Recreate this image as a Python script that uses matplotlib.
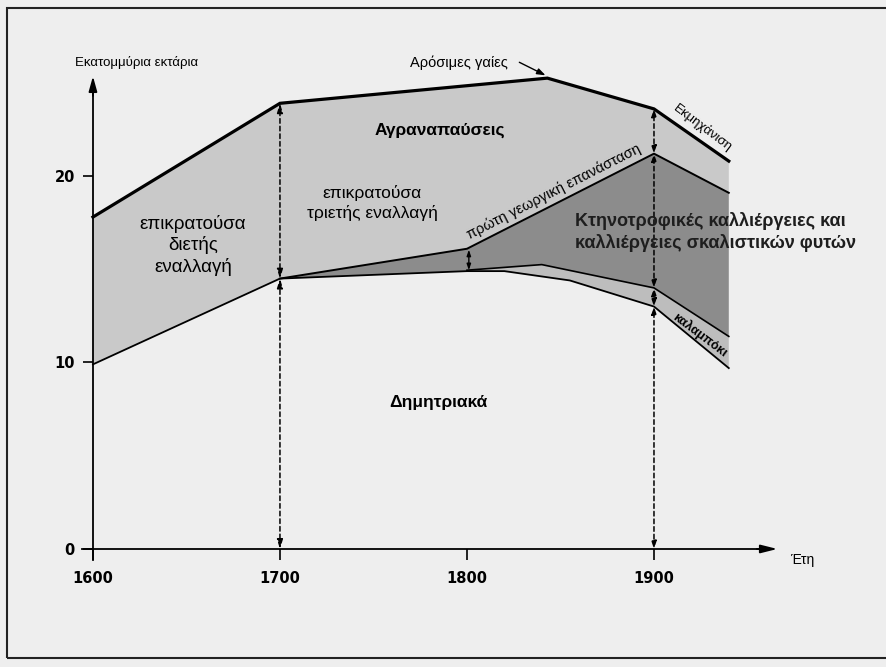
import matplotlib
matplotlib.use("Agg")
import matplotlib.pyplot as plt
import numpy as np
from matplotlib.patches import Rectangle

plt.rcParams['font.family'] = ['Liberation Sans', 'DejaVu Sans']

# boundaries (million hectares)
arable_years = [1600, 1700, 1843, 1900, 1940]
arable_vals = [17.8, 23.9, 25.25, 23.6, 20.8]

fodder_years = [1700, 1800, 1900, 1940]
fodder_vals = [14.5, 16.1, 21.2, 19.1]

maize_years = [1800, 1840, 1900, 1940]
maize_vals = [14.95, 15.25, 14.0, 11.4]

cereal_years = [1600, 1700, 1800, 1820, 1855, 1900, 1940]
cereal_vals = [9.9, 14.5, 14.9, 14.9, 14.4, 13.0, 9.7]

x_ticks = [1600, 1700, 1800, 1900]
y_ticks = [0, 10, 20]

# dashed measuring arrows (from, to)
arrows_1700 = [(0, 14.5), (14.5, 23.9)]
arrows_1900 = [(0, 13.0), (13.0, 14.0), (14.0, 21.2), (21.2, 23.6)]

bg = '#eeeeee'
fig = plt.figure(figsize=(8.87, 6.67), dpi=100, facecolor=bg)
ax = fig.add_axes([0, 0, 1, 1])
ax.set_facecolor(bg)
ax.set_xlim(1550.3, 2024.6)
ax.set_ylim(-6.33, 29.44)

ay, av = np.array(arable_years), np.array(arable_vals)
fy, fv = np.array(fodder_years), np.array(fodder_vals)
my, mv = np.array(maize_years), np.array(maize_vals)
cy, cv = np.array(cereal_years), np.array(cereal_vals)

# fallow (light): arable top down to fodder top / cereal top before 1700
c_early = cy <= 1700
fx = np.concatenate([ay, fy[::-1], cy[c_early][::-1]])
fyv = np.concatenate([av, fv[::-1], cv[c_early][::-1]])
ax.fill(fx, fyv, color='#c9c9c9', lw=0)

# fodder crops (dark)
c_mid = (cy >= 1700) & (cy <= 1800)
dx = np.concatenate([fy, my[::-1], cy[c_mid][::-1]])
dyv = np.concatenate([fv, mv[::-1], cv[c_mid][::-1]])
ax.fill(dx, dyv, color='#8c8c8c', lw=0)

# maize band
c_late = cy >= 1800
mx = np.concatenate([my, cy[c_late][::-1]])
myv = np.concatenate([mv, cv[c_late][::-1]])
ax.fill(mx, myv, color='#bdbdbd', lw=0)

ax.plot(ay, av, color='black', lw=2.3, solid_joinstyle='miter')
ax.plot(fy, fv, color='black', lw=1.4)
ax.plot(my, mv, color='black', lw=1.2)
ax.plot(cy, cv, color='black', lw=1.3)

# axes
for s in ['top', 'right']:
    ax.spines[s].set_visible(False)
ax.spines['left'].set_position(('data', 1600))
ax.spines['bottom'].set_position(('data', 0))
ax.spines['left'].set_bounds(-0.6, 24.8)
ax.spines['bottom'].set_bounds(1594, 1958)
ax.spines['left'].set_linewidth(1.3)
ax.spines['bottom'].set_linewidth(1.3)
ax.annotate('', xy=(1600, 25.35), xytext=(1600, 24.3),
            arrowprops=dict(arrowstyle='-|>,head_length=0.9,head_width=0.25',
                            color='black', lw=1.3, shrinkA=0, shrinkB=0))
ax.annotate('', xy=(1966, 0), xytext=(1955, 0),
            arrowprops=dict(arrowstyle='-|>,head_length=1.0,head_width=0.25',
                            color='black', lw=1.3, shrinkA=0, shrinkB=0))

ax.set_xticks(x_ticks)
ax.set_xticklabels([str(t) for t in x_ticks], fontweight='bold', fontsize=10.5,
                   family=['DejaVu Sans'])
ax.set_yticks(y_ticks)
ax.set_yticklabels([str(t) for t in y_ticks], fontweight='bold', fontsize=10.5,
                   family=['DejaVu Sans'])
ax.tick_params(axis='x', length=8, width=1.2, pad=8)
ax.tick_params(axis='y', length=7, width=1.2, pad=6)

dash = (0, (3, 2))
for lo, hi in arrows_1700:
    ax.annotate('', xy=(1700, hi), xytext=(1700, lo),
                arrowprops=dict(arrowstyle='<|-|>,head_length=0.55,head_width=0.17',
                                color='black', lw=1.1, linestyle=dash,
                                shrinkA=0, shrinkB=0))
for lo, hi in arrows_1900:
    ax.annotate('', xy=(1900, hi), xytext=(1900, lo),
                arrowprops=dict(arrowstyle='<|-|>,head_length=0.45,head_width=0.15',
                                color='black', lw=1.1, linestyle=dash,
                                shrinkA=0, shrinkB=0))
ax.annotate('', xy=(1801, 16.05), xytext=(1801, 14.95),
            arrowprops=dict(arrowstyle='<|-|>,head_length=0.35,head_width=0.12',
                            color='black', lw=1.0, shrinkA=0, shrinkB=0))

# labels
ax.text(1590.4, 26.1, 'Εκατομμύρια εκτάρια', fontsize=9.5, va='center', ha='left')
ax.text(1769.6, 26.1, 'Αρόσιμες γαίες', fontsize=10.5, va='center', ha='left')
ax.annotate('', xy=(1842, 25.4), xytext=(1828, 26.1),
            arrowprops=dict(arrowstyle='-|>,head_length=0.5,head_width=0.18',
                            color='black', lw=1.0, shrinkA=0, shrinkB=0))
ax.text(1979.2, -0.6, 'Έτη', fontsize=10, va='center', ha='center')

ax.text(1785.6, 22.47, 'Αγραναπαύσεις', fontsize=12.5, fontweight='bold',
        ha='center', va='center')
ax.text(1749.2, 18.55, 'επικρατούσα\nτριετής εναλλαγή', fontsize=12.5,
        ha='center', va='center', linespacing=1.35)
ax.text(1653.5, 16.3, 'επικρατούσα\nδιετής\nεναλλαγή', fontsize=13.5,
        ha='center', va='center', linespacing=1.25)
ax.text(1846.6, 19.14, 'πρώτη γεωργική επανάσταση', fontsize=10.5,
        ha='center', va='center', rotation=27, rotation_mode='anchor')
ax.text(1926.2, 22.6, 'Εκμηχάνιση', fontsize=9.5,
        ha='center', va='center', rotation=-37, rotation_mode='anchor')
ax.text(1857.8, 17.0, 'Κτηνοτροφικές καλλιέργειες και\nκαλλιέργειες σκαλιστικών φυτών',
        fontsize=13, fontweight='bold', color='#1e1e1e',
        ha='left', va='center', linespacing=1.25)
ax.text(1924.6, 11.47, 'καλαμπόκι', fontsize=9, fontweight='bold',
        ha='center', va='center', rotation=-37, rotation_mode='anchor')
ax.text(1784.5, 7.83, 'Δημητριακά', fontsize=12.5, fontweight='bold',
        ha='center', va='center')

# page frame of the scanned figure
fig.add_artist(Rectangle((7 / 887, 9 / 667), 1.0, 650 / 667, transform=fig.transFigure,
                         fill=False, lw=1.5, edgecolor='#222222'))

fig.savefig('out.png', dpi=100, facecolor=bg)
